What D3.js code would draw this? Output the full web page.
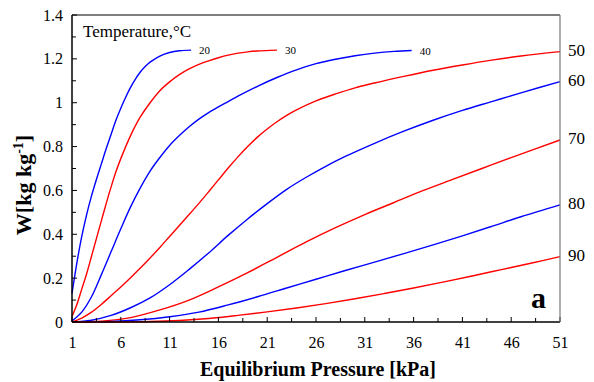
<!DOCTYPE html>
<html>
<head>
<meta charset="utf-8">
<script src="https://cdn.jsdelivr.net/npm/d3@7"></script>
<style>
  body { margin: 0; background: #fff; }
  svg text { font-family: "Liberation Serif", "Times New Roman", serif; }
</style>
</head>
<body>
<div id="chart"></div>
<script>
// isotermas, presion en kPa, W en kg/kg
const p20 = [1, 1.5, 2, 2.5, 3, 3.5, 4, 4.5, 5, 5.5, 6, 6.5, 7, 7.5, 8, 8.5, 9, 10, 11, 12, 13.2]
const w20 = [0.13, 0.27, 0.39, 0.49, 0.575, 0.65, 0.72, 0.79, 0.855, 0.92, 0.975, 1.025, 1.07, 1.108, 1.14, 1.165, 1.185, 1.213, 1.229, 1.237, 1.24]

const p30 = [1, 1.5, 2, 2.5, 3, 3.5, 4, 4.5, 5, 5.5, 6, 7, 8, 9, 10, 11, 12, 13, 14, 15, 16, 17, 18, 19, 20, 22]
const w30 = [0.025, 0.08, 0.15, 0.22, 0.30, 0.38, 0.46, 0.54, 0.615, 0.685, 0.745, 0.85, 0.935, 1.0, 1.055, 1.095, 1.128, 1.154, 1.175, 1.191, 1.205, 1.217, 1.226, 1.232, 1.236, 1.24]

const p40 = [1, 2, 3, 4, 5, 6, 7, 8, 9, 10, 11, 12, 13, 14, 15, 16, 17, 18, 20, 22, 24, 26, 28, 30, 32, 34, 35.8]
const w40 = [0.005, 0.045, 0.115, 0.215, 0.32, 0.425, 0.525, 0.612, 0.688, 0.75, 0.805, 0.85, 0.89, 0.925, 0.955, 0.981, 1.005, 1.03, 1.075, 1.115, 1.15, 1.178, 1.198, 1.214, 1.226, 1.234, 1.238]

const p50 = [1, 2, 3, 4, 5, 6, 7, 8, 9, 10, 11, 12, 13, 14, 15, 16, 17, 18, 19, 20, 21, 22, 23, 24, 26, 28, 30, 32, 35, 38, 41, 44, 47, 51]
const w50 = [0, 0.018, 0.045, 0.08, 0.12, 0.16, 0.202, 0.246, 0.292, 0.34, 0.39, 0.44, 0.49, 0.541, 0.594, 0.648, 0.702, 0.753, 0.80, 0.843, 0.88, 0.913, 0.942, 0.967, 1.008, 1.04, 1.068, 1.09, 1.12, 1.148, 1.172, 1.194, 1.213, 1.233]

const p60 = [1, 3, 5, 7, 9, 11, 13, 15, 17, 19, 21, 23, 25, 27, 29, 32, 35, 38, 41, 44, 47, 51]
const w60 = [0, 0.008, 0.03, 0.065, 0.11, 0.17, 0.24, 0.315, 0.395, 0.47, 0.54, 0.605, 0.66, 0.71, 0.755, 0.815, 0.87, 0.92, 0.965, 1.005, 1.045, 1.096]

const p70 = [1, 4, 7, 10, 13, 16, 19, 22, 25, 28, 31, 34, 37, 40, 43, 46, 51]
const w70 = [0, 0.004, 0.02, 0.055, 0.10, 0.16, 0.225, 0.295, 0.365, 0.43, 0.49, 0.545, 0.60, 0.65, 0.70, 0.75, 0.83]

const p80 = [1, 5, 8, 11, 14, 17, 20, 23, 26, 29, 32, 35, 38, 41, 44, 47, 51]
const w80 = [0, 0.002, 0.01, 0.024, 0.045, 0.078, 0.115, 0.155, 0.195, 0.235, 0.273, 0.312, 0.352, 0.393, 0.436, 0.48, 0.534]

const p90 = [1, 6, 9, 12, 15, 18, 21, 24, 27, 30, 33, 36, 39, 42, 45, 48, 51]
const w90 = [0, 0, 0.002, 0.007, 0.016, 0.03, 0.046, 0.064, 0.084, 0.106, 0.13, 0.155, 0.182, 0.21, 0.239, 0.268, 0.298]

const temperaturas = ["20", "30", "40", "50", "60", "70", "80", "90"]
const colores = ["#0000ff", "#ff0000", "#0000ff", "#ff0000", "#0000ff", "#ff0000", "#0000ff", "#ff0000"]
const presiones = [p20, p30, p40, p50, p60, p70, p80, p90]
const cargas = [w20, w30, w40, w50, w60, w70, w80, w90]

const xTicks = [1, 6, 11, 16, 21, 26, 31, 36, 41, 46, 51]
const yTicks = [0, 0.2, 0.4, 0.6, 0.8, 1, 1.2, 1.4]

const series = temperaturas.map((t, i) => ({
  temp: t,
  color: colores[i],
  puntos: presiones[i].map((p, j) => ({ p: p, w: cargas[i][j] }))
}))

const ancho = 594, alto = 382
const m = { left: 72, right: 34, top: 15, bottom: 60 }

const svg = d3.select("#chart").append("svg")
  .attr("width", ancho)
  .attr("height", alto)

const x = d3.scaleLinear().domain([1, 51]).range([m.left, ancho - m.right])
const y = d3.scaleLinear().domain([0, 1.4]).range([alto - m.bottom, m.top])

// curvas
const linea = d3.line()
  .x(d => x(d.p))
  .y(d => y(d.w))
  .curve(d3.curveCatmullRom.alpha(0.5))

svg.append("g")
  .selectAll("path")
  .data(series)
  .enter().append("path")
  .attr("d", d => linea(d.puntos))
  .attr("fill", "none")
  .attr("stroke", d => d.color)
  .attr("stroke-width", 1.4)

// ejes, las marcas van hacia adentro
const ejeX = svg.append("g")
  .attr("transform", "translate(0," + (alto - m.bottom) + ")")
  .call(d3.axisBottom(x).tickValues(xTicks).tickSize(0).tickPadding(15).tickFormat(d3.format("d")))
ejeX.select(".domain").remove()
ejeX.selectAll("text").attr("font-size", 16).attr("fill", "#000")
  .attr("font-family", "Liberation Serif, serif")

const ejeY = svg.append("g")
  .attr("transform", "translate(" + m.left + ",0)")
  .call(d3.axisLeft(y).tickValues(yTicks).tickSize(0).tickPadding(9).tickFormat(d => d3.format("")(+d.toFixed(1))))
ejeY.select(".domain").remove()
ejeY.selectAll("text").attr("font-size", 16).attr("fill", "#000")
  .attr("font-family", "Liberation Serif, serif")

const marcasX = d3.range(1, 51.01, 2.5)
svg.append("g").selectAll("line")
  .data(marcasX)
  .enter().append("line")
  .attr("x1", d => x(d)).attr("x2", d => x(d))
  .attr("y1", y(0)).attr("y2", (d, i) => y(0) - (i % 2 === 0 ? 5 : 4))
  .attr("stroke", "#000").attr("stroke-width", 1)

const marcasY = d3.range(0, 1.401, 0.1)
svg.append("g").selectAll("line")
  .data(marcasY)
  .enter().append("line")
  .attr("x1", x(1)).attr("x2", (d, i) => x(1) + (i % 2 === 0 ? 5 : 4))
  .attr("y1", d => y(d)).attr("y2", d => y(d))
  .attr("stroke", "#000").attr("stroke-width", 1)

// marco
svg.append("line").attr("x1", x(1)).attr("x2", x(51)).attr("y1", y(0)).attr("y2", y(0))
  .attr("stroke", "#000").attr("stroke-width", 1.5)
svg.append("line").attr("x1", x(1)).attr("x2", x(1)).attr("y1", y(0)).attr("y2", y(1.4))
  .attr("stroke", "#000").attr("stroke-width", 1.5)
svg.append("line").attr("x1", x(1)).attr("x2", x(51)).attr("y1", y(1.4)).attr("y2", y(1.4))
  .attr("stroke", "#000").attr("stroke-width", 1.2)
svg.append("line").attr("x1", x(51)).attr("x2", x(51)).attr("y1", y(0)).attr("y2", y(1.4))
  .attr("stroke", "#777").attr("stroke-width", 1.2)

// etiquetas de temperatura
const internas = series.slice(0, 3)
svg.append("g").selectAll("text")
  .data(internas)
  .enter().append("text")
  .attr("x", d => x(d.puntos[d.puntos.length - 1].p) + 8)
  .attr("y", d => y(d.puntos[d.puntos.length - 1].w) + 4)
  .attr("font-size", 11)
  .text(d => d.temp)

const externas = series.slice(3)
svg.append("g").selectAll("text")
  .data(externas)
  .enter().append("text")
  .attr("x", x(51) + 8)
  .attr("y", d => y(d.puntos[d.puntos.length - 1].w) + 4)
  .attr("font-size", 17)
  .text(d => d.temp)

svg.append("text")
  .attr("x", x(1) + 11)
  .attr("y", 37)
  .attr("font-size", 17)
  .text("Temperature,°C")

// titulos
svg.append("text")
  .attr("x", 318)
  .attr("y", 376)
  .attr("text-anchor", "middle")
  .attr("font-size", 20)
  .attr("font-weight", "bold")
  .text("Equilibrium Pressure [kPa]")

const tituloY = svg.append("text")
  .attr("transform", "translate(31,185) rotate(-90)")
  .attr("text-anchor", "middle")
  .attr("font-size", 22)
  .attr("font-weight", "bold")
tituloY.append("tspan").text("W[kg kg")
tituloY.append("tspan").attr("dy", -8).attr("font-size", 14).text("-1")
tituloY.append("tspan").attr("dy", 8).text("]")

svg.append("text")
  .attr("x", 531)
  .attr("y", 308)
  .attr("font-family", "Liberation Sans, Arial, sans-serif")
  .attr("font-size", 30)
  .attr("font-weight", "bold")
  .text("a")
</script>
</body>
</html>
